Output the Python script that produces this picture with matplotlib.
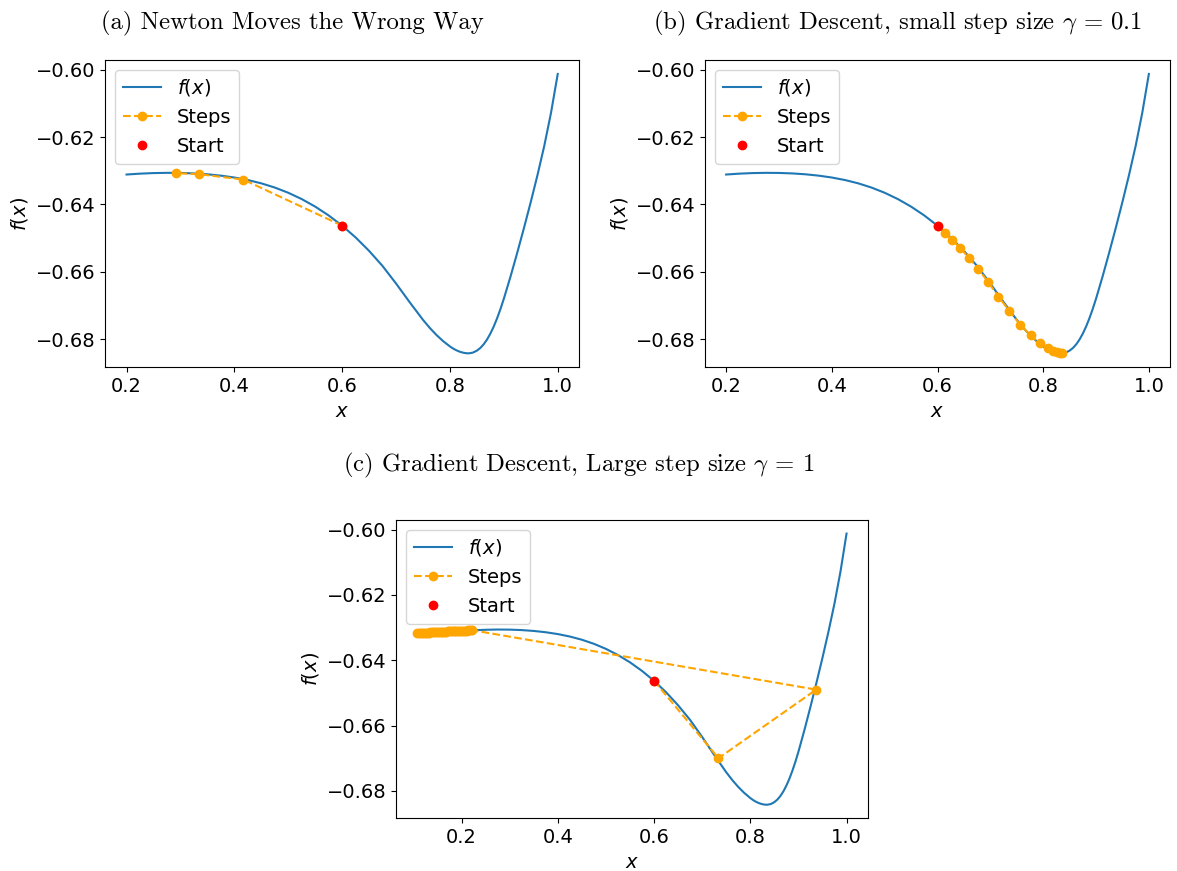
import matplotlib
matplotlib.use("Agg")
import matplotlib.pyplot as plt

# ---- data ----
curve_x = [0.200, 0.225, 0.250, 0.275, 0.300, 0.325, 0.350, 0.375, 0.400, 0.425,
           0.450, 0.475, 0.500, 0.525, 0.550, 0.575, 0.600, 0.625, 0.650, 0.675,
           0.700, 0.725, 0.750, 0.7625, 0.775, 0.7875, 0.800, 0.80625, 0.8125,
           0.81875, 0.825, 0.830, 0.835, 0.8425, 0.850, 0.85625, 0.8625, 0.86875,
           0.875, 0.88125, 0.8875, 0.89375, 0.900, 0.9125, 0.925, 0.9375, 0.950,
           0.9625, 0.975, 0.9875, 1.000]
curve_y = [-0.63110, -0.63084, -0.63067, -0.63060, -0.63063, -0.63077, -0.63103,
           -0.63143, -0.63199, -0.63274, -0.63372, -0.63497, -0.63652, -0.63840,
           -0.64064, -0.64327, -0.64631, -0.64980, -0.65380, -0.65830, -0.66350,
           -0.66900, -0.67430, -0.67668, -0.67880, -0.68064, -0.68220, -0.68286,
           -0.68339, -0.68380, -0.68408, -0.68421, -0.68425, -0.68404, -0.68345,
           -0.68267, -0.68158, -0.68016, -0.67839, -0.67628, -0.67383, -0.67107,
           -0.66802, -0.66136, -0.65427, -0.64689, -0.63924, -0.63121, -0.62258,
           -0.61277, -0.60121]

start_x = 0.600
start_y = -0.6463

newton_x = [0.600, 0.4166, 0.3349, 0.2916]
newton_y = [-0.6463, -0.6326, -0.6310, -0.6307]

gd_small_x = [0.600, 0.6135, 0.6277, 0.6432, 0.6599, 0.6771, 0.6957, 0.7154, 0.7358,
              0.7563, 0.7760, 0.7934, 0.8082, 0.8181, 0.8255, 0.8317, 0.8348]
gd_small_y = [-0.6463, -0.6484, -0.6505, -0.6530, -0.6559, -0.6592, -0.6630, -0.6674,
              -0.6716, -0.6757, -0.6789, -0.6812, -0.6828, -0.6835, -0.6839, -0.6841,
              -0.6842]

gd_large_x = [0.600, 0.7339, 0.9370,
              0.2224, 0.2194, 0.2164, 0.2134, 0.2104, 0.2074, 0.2044, 0.2014, 0.1984,
              0.1954, 0.1924, 0.1894, 0.1864, 0.1834, 0.1804, 0.1774, 0.1744, 0.1714,
              0.1684, 0.1654, 0.1624, 0.1594, 0.1564, 0.1534, 0.1504, 0.1474, 0.1444,
              0.1414, 0.1384, 0.1354, 0.1324, 0.1294, 0.1264, 0.1234, 0.1204, 0.1174,
              0.1144, 0.1114, 0.1084]
gd_large_y = [-0.6463, -0.6700, -0.6490,
              -0.63080, -0.63082, -0.63085, -0.63087, -0.63090, -0.63092, -0.63094,
              -0.63097, -0.63099, -0.63102, -0.63104, -0.63106, -0.63109, -0.63111,
              -0.63113, -0.63116, -0.63118, -0.63120, -0.63123, -0.63125, -0.63127,
              -0.63130, -0.63132, -0.63134, -0.63137, -0.63139, -0.63141, -0.63144,
              -0.63146, -0.63149, -0.63151, -0.63153, -0.63156, -0.63158, -0.63160,
              -0.63163, -0.63165, -0.63167, -0.63170]

titles = [r"(a) Newton Moves the Wrong Way",
          r"(b) Gradient Descent, small step size $\gamma$ = 0.1",
          r"(c) Gradient Descent, Large step size $\gamma$ = 1"]

plt.rcParams["font.size"] = 14

W, H = 1177, 871
fig = plt.figure(figsize=(W / 100, H / 100), dpi=100)


def box(l, t, r, b):
    return [l / W, 1 - b / H, (r - l) / W, (b - t) / H]


axes = [fig.add_axes(box(105, 60, 579.3, 367.3)),
        fig.add_axes(box(705, 60, 1170, 367.3)),
        fig.add_axes(box(396, 520, 868, 818.3))]
steps = [(newton_x, newton_y), (gd_small_x, gd_small_y), (gd_large_x, gd_large_y)]

for ax, (sx, sy) in zip(axes, steps):
    ax.plot(curve_x, curve_y, color="C0", lw=1.5, label="$f(x)$")
    ax.plot(sx, sy, "o--", color="orange", label="Steps")
    ax.plot(start_x, start_y, "ro", label="Start")
    ax.set_xlabel("$x$")
    ax.set_ylabel("$f(x)$")
    ax.legend(loc="upper left")

title_pos = [(292, 29), (898, 29), (579, 471)]
for t, (px, py) in zip(titles, title_pos):
    fig.text(px / W, 1 - py / H, t, ha="center", va="baseline",
             fontfamily="cmr10", math_fontfamily="cm", fontsize=17.8)

fig.savefig("out.png", dpi=100)
